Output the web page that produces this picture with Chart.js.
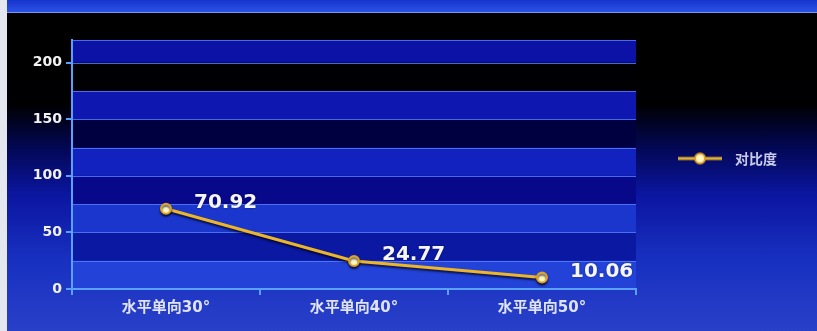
<!DOCTYPE html>
<html>
<head>
<meta charset="utf-8">
<script src="https://cdn.jsdelivr.net/npm/chart.js@4.4.1/dist/chart.umd.min.js"></script>
<style>
  html, body { margin: 0; padding: 0; }
  body {
    width: 817px; height: 331px; overflow: hidden; position: relative;
    background: linear-gradient(180deg, #000000 0px, #000002 105px, #030858 150px, #0b16a0 195px, #1830c0 260px, #2840c8 331px);
  }
  #bar { position: absolute; left: 0; top: 0; width: 817px; height: 12px;
    background: linear-gradient(180deg, #1634cc, #2a52e6); border-bottom: 1px solid #7a96f0; }
  #edge { position: absolute; left: 0; top: 0; width: 7px; height: 331px; background: #e4e6f0; }
  canvas { position: absolute; left: 0; top: 0; }
</style>
</head>
<body>
<div id="bar"></div>
<div id="edge"></div>
<canvas id="chart" width="817" height="331"></canvas>
<script>
const categories = ['水平单向30°', '水平单向40°', '水平单向50°'];
const contrast = [70.92, 24.77, 10.06];
const seriesName = '对比度';
const yLabels = [0, 50, 100, 150, 200];

const axisBlue = '#5aa0ff';
// alternating band fills, bottom band first
const bandColors = ['#2242d8', '#0a18a2', '#1a36cc', '#07098a', '#1222be', '#000040', '#0e18b0', '#000004', '#0c12a6'];

// legend marker: short line with a dot in the middle
const mark = document.createElement('canvas');
mark.width = 44; mark.height = 14;
const m = mark.getContext('2d');
m.strokeStyle = '#e8b42a'; m.lineWidth = 3;
m.beginPath(); m.moveTo(0, 7); m.lineTo(44, 7); m.stroke();
m.beginPath(); m.arc(22, 7, 5, 0, Math.PI * 2);
m.fillStyle = '#fff6c0'; m.fill();
m.strokeStyle = '#e0a020'; m.lineWidth = 2; m.stroke();

const bands = {
  id: 'bands',
  beforeDraw(chart) {
    const { ctx, chartArea: a, scales: { y } } = chart;
    const vals = y.ticks.map(t => t.value);
    ctx.save();
    for (let i = 0; i < vals.length - 1; i++) {
      const top = y.getPixelForValue(vals[i + 1]);
      const bot = y.getPixelForValue(vals[i]);
      ctx.fillStyle = bandColors[i % bandColors.length];
      ctx.fillRect(a.left, top, a.right - a.left, bot - top);
    }
    ctx.strokeStyle = 'rgba(90,130,255,0.8)';
    ctx.lineWidth = 1;
    vals.slice(1).forEach(v => {
      const py = Math.round(y.getPixelForValue(v)) + 0.5;
      ctx.beginPath(); ctx.moveTo(a.left, py); ctx.lineTo(a.right, py); ctx.stroke();
    });
    ctx.restore();
  }
};

// lift the legend a little above the plot's vertical centre
const legendLift = {
  id: 'legendLift',
  afterLayout(chart) {
    chart.legend.top -= 27;
    chart.legend.bottom -= 27;
  }
};

const lineShadow = {
  id: 'lineShadow',
  beforeDatasetsDraw(chart) {
    const ctx = chart.ctx;
    ctx.save();
    ctx.shadowColor = 'rgba(0,0,20,0.7)';
    ctx.shadowOffsetY = 2;
    ctx.shadowBlur = 2;
  },
  afterDatasetsDraw(chart) {
    chart.ctx.restore();
  }
};

const valueLabels = {
  id: 'valueLabels',
  afterDatasetsDraw(chart) {
    const ctx = chart.ctx;
    const meta = chart.getDatasetMeta(0);
    ctx.save();
    ctx.font = 'bold 20px "DejaVu Sans", sans-serif';
    ctx.fillStyle = '#f6f6f6';
    ctx.textAlign = 'left';
    ctx.textBaseline = 'middle';
    ctx.shadowColor = 'rgba(0,0,30,0.5)';
    ctx.shadowBlur = 2;
    meta.data.forEach((pt, i) => {
      ctx.fillText(contrast[i].toFixed(2), pt.x + 28, pt.y - 6);
    });
    ctx.restore();
  }
};

new Chart(document.getElementById('chart'), {
  type: 'line',
  data: {
    labels: categories,
    datasets: [{
      label: seriesName,
      data: contrast,
      borderColor: '#ecb52a',
      borderWidth: 3,
      pointRadius: 5,
      pointBackgroundColor: '#fff6c0',
      pointBorderColor: '#e0a020',
      pointBorderWidth: 2,
      tension: 0
    }]
  },
  options: {
    responsive: false,
    animation: false,
    layout: { padding: { top: 40, left: 0, right: 30, bottom: 0 } },
    plugins: {
      tooltip: { enabled: false },
      legend: {
        position: 'right',
        labels: {
          usePointStyle: true,
          pointStyle: mark,
          pointStyleWidth: 56,
          padding: 36,
          color: '#c9cbe8',
          font: { family: '"Noto Sans CJK SC", sans-serif', size: 14, weight: 'bold' }
        }
      }
    },
    scales: {
      x: {
        offset: true,
        grid: { offset: true, drawOnChartArea: false, tickLength: 6, color: axisBlue, lineWidth: 2 },
        border: { color: axisBlue, width: 2 },
        ticks: {
          color: '#dfe3f5',
          padding: 4,
          font: { family: '"DejaVu Sans", "Noto Sans CJK SC", sans-serif', size: 15, weight: 'bold' }
        },
        afterFit(scale) { scale.height = 42; }
      },
      y: {
        min: 0,
        max: 220,
        grid: {
          drawOnChartArea: false,
          tickLength: 6,
          lineWidth: 2,
          color: c => yLabels.includes(c.tick.value) ? axisBlue : 'rgba(0,0,0,0)'
        },
        border: { color: axisBlue, width: 2 },
        ticks: {
          stepSize: 25,
          color: '#f2f2f2',
          padding: 4,
          font: { family: '"DejaVu Sans", sans-serif', size: 14, weight: 'bold' },
          callback: v => yLabels.includes(v) ? v : ''
        },
        afterFit(scale) { scale.width = 72; }
      }
    }
  },
  plugins: [bands, legendLift, lineShadow, valueLabels]
});
</script>
</body>
</html>
